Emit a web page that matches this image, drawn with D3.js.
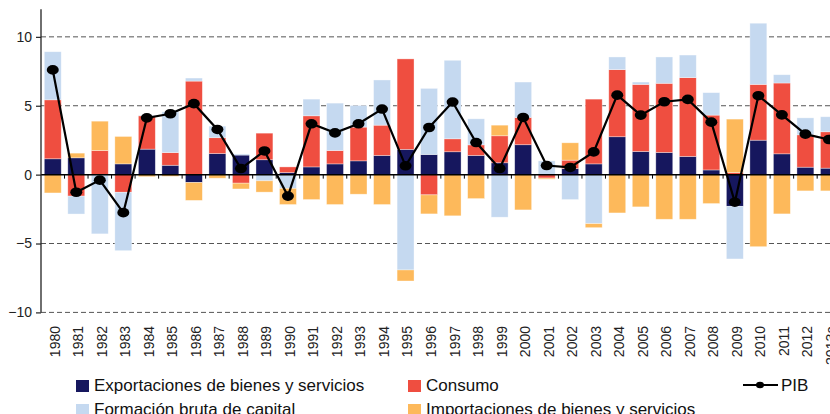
<!DOCTYPE html>
<html>
<head>
<meta charset="utf-8">
<script src="https://cdn.jsdelivr.net/npm/d3@7"></script>
<style>
  html, body { margin: 0; padding: 0; background: #fff; }
  svg { display: block; font-family: "Liberation Sans", Arial, sans-serif; }
</style>
</head>
<body>
<svg id="chart" width="830" height="414"></svg>
<script>
const years = ["1980","1981","1982","1983","1984","1985","1986","1987","1988","1989",
  "1990","1991","1992","1993","1994","1995","1996","1997","1998","1999",
  "2000","2001","2002","2003","2004","2005","2006","2007","2008","2009",
  "2010","2011","2012","2013a"];

const exportaciones = [1.15,1.22,0,0.78,1.85,0.68,-0.57,1.53,1.42,1.08,
  0.15,0.56,0.78,1.0,1.39,1.83,1.46,1.66,1.39,0.86,
  2.17,0,0.44,0.78,2.75,1.68,1.61,1.32,0.34,-2.3,
  2.5,1.51,0.54,0.47];
const consumo = [4.28,-1.56,1.75,-1.28,2.42,0.92,6.79,1.15,-0.62,1.93,
  0.41,3.71,0.97,2.45,2.2,6.57,-1.47,0.94,0.77,1.96,
  1.98,-0.25,0.61,4.70,4.87,4.87,5.02,5.72,3.98,0.15,
  4.05,5.14,2.35,2.64];
const formacion = [3.49,-1.30,-4.30,-4.24,0.05,2.96,0.22,0.84,0.08,-0.45,
  -1.0,1.21,3.44,1.57,3.28,-6.92,4.8,5.70,1.89,-3.09,
  2.57,1.0,-1.81,-3.56,0.92,0.17,1.91,1.64,1.63,-3.82,
  4.44,0.60,1.23,1.09];
const importaciones = [-1.33,0.34,2.13,1.99,-0.15,-0.12,-1.30,-0.26,-0.42,-0.82,
  -1.17,-1.81,-2.17,-1.42,-2.17,-0.80,-1.38,-2.99,-1.74,0.77,
  -2.56,-0.08,1.26,-0.29,-2.78,-2.34,-3.24,-3.24,-2.10,3.88,
  -5.23,-2.85,-1.18,-1.18];
const pib = [7.6,-1.28,-0.40,-2.76,4.12,4.42,5.15,3.28,0.44,1.72,
  -1.56,3.69,3.03,3.69,4.76,0.64,3.42,5.27,2.33,0.44,
  4.15,0.66,0.52,1.65,5.77,4.32,5.29,5.46,3.81,-2.0,
  5.73,4.34,2.94,2.55];

const yTicks = [-10,-5,0,5,10];
const seriesKeys = ["exportaciones","consumo","formacion","importaciones"];
const seriesLabels = {
  exportaciones: "Exportaciones de bienes y servicios",
  consumo: "Consumo",
  formacion: "Formación bruta de capital",
  importaciones: "Importaciones de bienes y servicios"
};
const colors = {
  exportaciones: "#16175e",
  consumo: "#ef4e40",
  formacion: "#c5d9f0",
  importaciones: "#fdb95b"
};

const table = years.map((y, i) => ({
  year: y,
  exportaciones: exportaciones[i],
  consumo: consumo[i],
  formacion: formacion[i],
  importaciones: importaciones[i],
  pib: pib[i]
}));

const svg = d3.select("#chart");
const W = 830;
const step = 23.52;
const x0 = 41;
const x = d3.scaleBand().domain(years)
  .range([x0, x0 + step * years.length])
  .paddingInner(0.28).paddingOuter(0.14);
const y = d3.scaleLinear().domain([-10, 12]).range([312.4, 9.3]);

// grid lines (dashed)
svg.append("g").selectAll("line")
  .data(yTicks.filter(d => d !== 0))
  .join("line")
  .attr("x1", x0).attr("x2", W)
  .attr("y1", d => y(d)).attr("y2", d => y(d))
  .attr("stroke", "#555").attr("stroke-width", 1)
  .attr("stroke-dasharray", "5,3");

// stacked bars
const stack = d3.stack().keys(seriesKeys).offset(d3.stackOffsetDiverging);
const stacked = stack(table);
svg.append("g").selectAll("g")
  .data(stacked)
  .join("g")
  .attr("fill", d => colors[d.key])
  .selectAll("rect")
  .data(d => d)
  .join("rect")
  .attr("x", d => x(d.data.year))
  .attr("width", x.bandwidth())
  .attr("y", d => y(Math.max(d[0], d[1])))
  .attr("height", d => Math.abs(y(d[0]) - y(d[1])))
  .attr("stroke", "#fff").attr("stroke-opacity", 0.5).attr("stroke-width", 0.7);

// zero line
svg.append("line")
  .attr("x1", x0).attr("x2", W)
  .attr("y1", y(0)).attr("y2", y(0))
  .attr("stroke", "#000").attr("stroke-width", 1.5);

// x ticks at band boundaries
svg.append("g").selectAll("line")
  .data(years)
  .join("line")
  .attr("x1", d => x(d) - x.step() * x.paddingInner() / 2 + x.step())
  .attr("x2", d => x(d) - x.step() * x.paddingInner() / 2 + x.step())
  .attr("y1", y(0)).attr("y2", y(0) + 4)
  .attr("stroke", "#000").attr("stroke-width", 1);

// y axis
const yAxis = d3.axisLeft(y).tickValues(yTicks).tickSize(5).tickPadding(4).tickFormat(d3.format("d"));
const yg = svg.append("g").attr("transform", `translate(${x0},0)`).call(yAxis);
yg.select(".domain").attr("stroke", "#222").attr("stroke-width", 1.3)
  .attr("d", `M-0,${y(-10)}V${y(12)}`);
yg.selectAll(".tick line").attr("stroke", "#222").attr("stroke-width", 1.2);
yg.selectAll(".tick text").attr("font-size", 14).attr("fill", "#222")
  .attr("font-family", "Liberation Sans, Arial, sans-serif");

// x labels
svg.append("g").selectAll("text")
  .data(years)
  .join("text")
  .attr("transform", d => `translate(${x(d) + x.bandwidth() / 2 + 2},326) rotate(-90)`)
  .attr("text-anchor", "end")
  .attr("dy", "0.35em")
  .attr("font-size", 14)
  .attr("fill", "#222")
  .text(d => d);

// PIB line
const cx = d => x(d.year) + x.bandwidth() / 2;
svg.append("path")
  .datum(table)
  .attr("fill", "none")
  .attr("stroke", "#000")
  .attr("stroke-width", 2.2)
  .attr("d", d3.line().x(cx).y(d => y(d.pib)));
svg.append("g").selectAll("ellipse")
  .data(table)
  .join("ellipse")
  .attr("cx", cx).attr("cy", d => y(d.pib))
  .attr("rx", 6).attr("ry", 4.8)
  .attr("fill", "#000");

// legend
const legendItems = [
  { key: "exportaciones", sx: 76, ty: 391 },
  { key: "consumo", sx: 408, ty: 391 },
  { key: "formacion", sx: 76, ty: 415 },
  { key: "importaciones", sx: 408, ty: 415 }
];
const lg = svg.append("g");
legendItems.forEach(it => {
  lg.append("rect").attr("x", it.sx).attr("y", it.ty - 11)
    .attr("width", 13).attr("height", 12).attr("fill", colors[it.key]);
  lg.append("text").attr("x", it.sx + 18).attr("y", it.ty)
    .attr("font-size", 17).attr("fill", "#111").text(seriesLabels[it.key]);
});
lg.append("line").attr("x1", 743).attr("x2", 778).attr("y1", 385).attr("y2", 385)
  .attr("stroke", "#000").attr("stroke-width", 2.2);
lg.append("ellipse").attr("cx", 760).attr("cy", 385).attr("rx", 4).attr("ry", 3.3).attr("fill", "#000");
lg.append("text").attr("x", 781).attr("y", 391).attr("font-size", 17).attr("fill", "#111").text("PIB");
</script>
</body>
</html>
